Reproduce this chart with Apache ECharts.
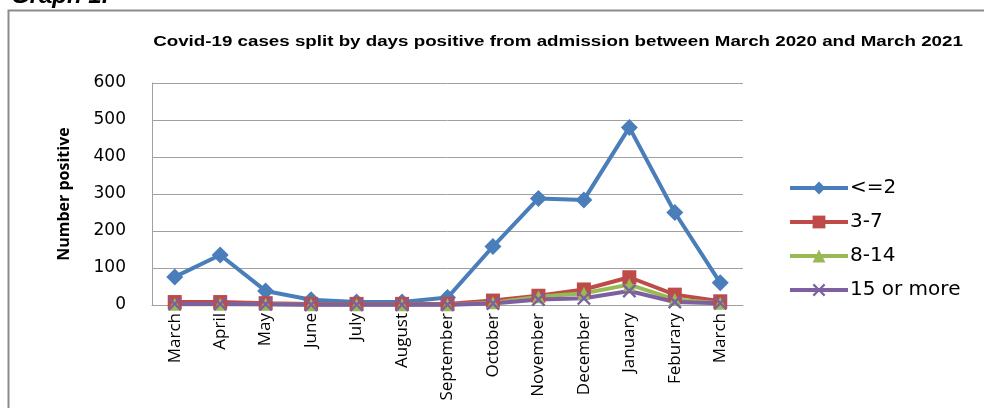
<!DOCTYPE html>
<html>
<head>
<meta charset="utf-8">
<script src="https://cdn.jsdelivr.net/npm/echarts@6/dist/echarts.min.js"></script>
<style>
  html, body { margin: 0; padding: 0; background: #fff; }
  #chart { width: 984px; height: 408px; }
</style>
</head>
<body>
<div id="chart"></div>
<script>
// Monthly positive cases, March 2020 – March 2021
const months = ['March', 'April', 'May', 'June', 'July', 'August', 'September',
  'October', 'November', 'December', 'January', 'Feburary', 'March'];
const daysUpTo2 = [76, 135, 38, 14, 8, 8, 20, 158, 288, 284, 480, 250, 60];
const days3to7 = [8, 8, 5, 3, 3, 3, 3, 12, 25, 42, 75, 28, 10];
const days8to14 = [2, 2, 2, 1, 1, 1, 1, 6, 22, 32, 55, 15, 5];
const days15plus = [3, 3, 2, 1, 1, 1, 1, 4, 15, 18, 38, 8, 5];
const seriesNames = ['<=2', '3-7', '8-14', '15 or more'];
const yTicks = [0, 100, 200, 300, 400, 500, 600];
const chartTitle = 'Covid-19 cases split by days positive from admission between March 2020 and March 2021';

const crossPath = 'path://M0,1.2L1.2,0L5,3.8L8.8,0L10,1.2L6.2,5L10,8.8L8.8,10L5,6.2L1.2,10L0,8.8L3.8,5Z';
const labelFont = '"Open Sans", "Noto Sans", sans-serif';
const wideFont = '"DejaVu Sans", sans-serif';

const chart = echarts.init(document.getElementById('chart'), null, { renderer: 'canvas' });

function lineSeries(name, data, color, symbol, size) {
  return {
    name, type: 'line', data,
    symbol, symbolSize: size,
    showSymbol: true,
    lineStyle: { color, width: 4 },
    itemStyle: { color },
    z: 2
  };
}

chart.setOption({
  animation: false,
  backgroundColor: '#fff',
  graphic: [
    {
      type: 'rect', shape: { x: 8.5, y: 10.5, width: 1100, height: 600 },
      style: { fill: 'none', stroke: '#8c8c8c', lineWidth: 2 }, silent: true
    },
    {
      type: 'text', x: 11, y: 8,
      style: {
        text: 'Graph 1.', fontFamily: '"Liberation Sans", Arial, sans-serif',
        fontStyle: 'italic', fontWeight: 'bold', fontSize: 24, fill: '#000',
        verticalAlign: 'bottom'
      }
    },
    {
      type: 'text', x: 558, y: 42, scaleX: 1.25,
      style: {
        text: chartTitle, fontFamily: '"Liberation Sans", Arial, sans-serif',
        fontWeight: 'bold', fontSize: 15, fill: '#000',
        align: 'center', verticalAlign: 'middle'
      }
    }
  ],
  legend: {
    orient: 'vertical', left: 783, top: 173,
    itemWidth: 58, itemHeight: 16, itemGap: 14,
    data: seriesNames,
    lineStyle: { width: 4 },
    textStyle: { fontFamily: wideFont, fontSize: 20, color: '#000', padding: [0, 0, 0, -3] }
  },
  grid: { left: 152, right: 241, top: 83, bottom: 103, containLabel: false, outerBoundsMode: 'none' },
  xAxis: {
    type: 'category', data: months, boundaryGap: true,
    axisLine: { lineStyle: { color: '#a0a0a0', width: 1 } },
    axisTick: { show: false },
    axisLabel: {
      rotate: 90, interval: 0, margin: 8,
      fontFamily: labelFont, fontSize: 17, color: '#000'
    }
  },
  yAxis: {
    type: 'value', min: yTicks[0], max: yTicks[yTicks.length - 1], interval: 100,
    name: 'Number positive', nameLocation: 'middle', nameGap: 80, nameRotate: 90,
    nameTextStyle: { fontFamily: '"Open Sans", sans-serif', fontWeight: 'bold', fontSize: 16, color: '#000' },
    axisLine: { show: true, lineStyle: { color: '#a0a0a0', width: 1 } },
    axisTick: { show: false },
    splitLine: { lineStyle: { color: '#a0a0a0', width: 1 } },
    axisLabel: { margin: 26, fontFamily: wideFont, fontSize: 17, color: '#000' }
  },
  series: [
    lineSeries(seriesNames[0], daysUpTo2, '#4a7ebb', 'diamond', 17),
    lineSeries(seriesNames[1], days3to7, '#be4b48', 'rect', 14),
    lineSeries(seriesNames[2], days8to14, '#98b954', 'triangle', 13),
    lineSeries(seriesNames[3], days15plus, '#7d60a0', crossPath, 14)
  ]
});
</script>
</body>
</html>
